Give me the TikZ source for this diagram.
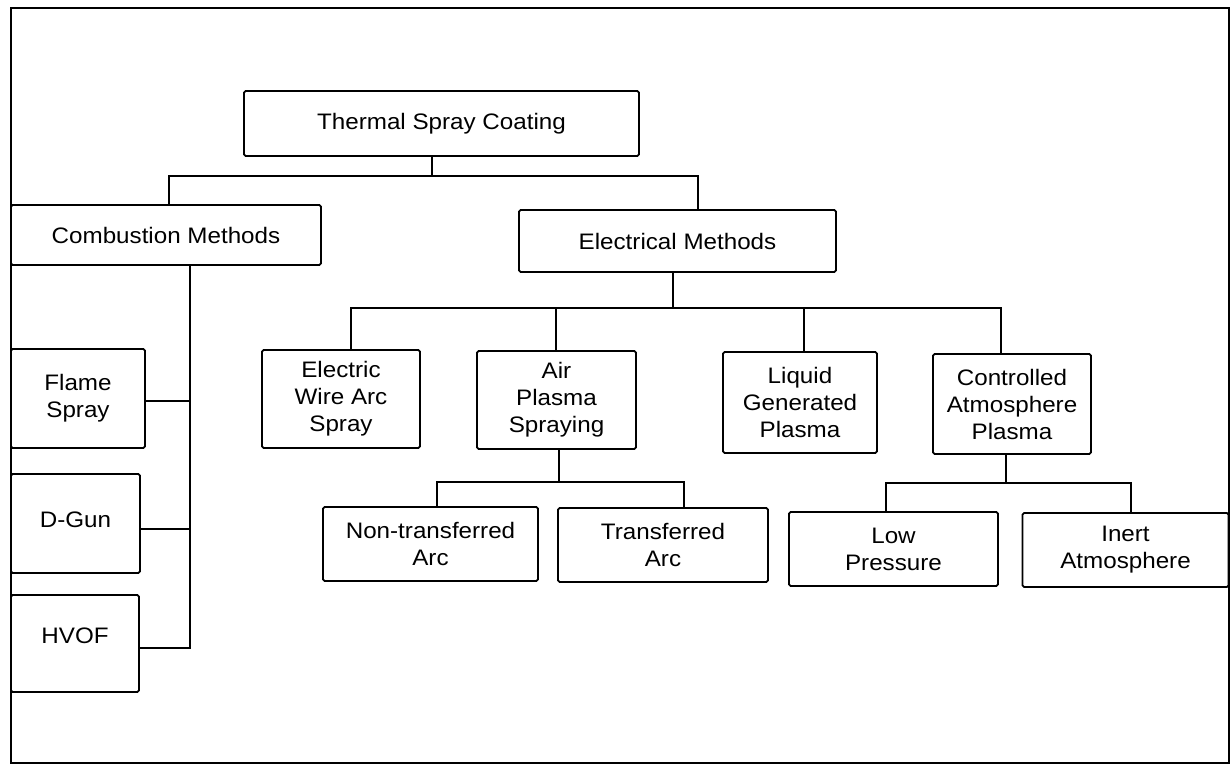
\documentclass[tikz,border=0pt]{standalone}
\usepackage{fontspec}
\setmainfont[FakeStretch=1.08]{Liberation Sans}
\begin{document}
\begin{tikzpicture}[x=0.5pt, y=-0.5pt,
  box/.style={draw, line width=0.9pt, rounded corners=0.8pt, inner sep=0pt,
    align=center, font=\fontsize{11.2}{13.5}\selectfont},
  link/.style={draw, line width=0.9pt}]
\useasboundingbox (0,0) rectangle (1232,767);

% outer frame
\draw[line width=0.9pt] (11,8) rectangle (1229,763);

% root
\node[box, minimum width=197.5pt, minimum height=32.5pt] (tsc) at (441.5,123.5) {Thermal Spray Coating};

% first level
\node[box, minimum width=155pt, minimum height=30pt] (comb) at (166,235) {Combustion Methods};
\node[box, minimum width=158.5pt, minimum height=31pt] (elec) at (677.5,241) {Electrical Methods};

% electrical methods
\node[box, minimum width=79pt, minimum height=49pt] (ewa) at (341,399) {Electric\\Wire Arc\\Spray};
\node[box, minimum width=79.5pt, minimum height=49pt] (aps) at (556.5,400) {Air\\Plasma\\Spraying};
\node[box, minimum width=77pt, minimum height=50.5pt] (lgp) at (800,402.5) {Liquid\\Generated\\Plasma};
\node[box, minimum width=79pt, minimum height=50pt] (cap) at (1012,404) {Controlled\\Atmosphere\\Plasma};

% plasma variants
\node[box, minimum width=107.5pt, minimum height=37pt] (nta) at (430.5,544) {Non-transferred\\Arc};
\node[box, minimum width=105pt, minimum height=37pt] (ta) at (663,545) {Transferred\\Arc};
\node[box, minimum width=104.5pt, minimum height=37pt] (lp) at (893.5,549) {Low\\Pressure};
\node[box, minimum width=103pt, minimum height=37pt] (ia) at (1125.5,550) {Inert\\Atmosphere};

% combustion methods (labels sit a little above the box centre)
\node[box, minimum width=67pt, minimum height=49.5pt] (fs) at (78,398.5) {Flame\\Spray};
\node[box, minimum width=64.5pt, minimum height=49.5pt] (dg) at (75.5,523.5) {\raisebox{0pt}[4pt][0pt]{D-Gun}};
\node[box, minimum width=64pt, minimum height=48.5pt] (hv) at (75,643.5) {\raisebox{0pt}[0pt][0pt]{HVOF}};

% root -> first level
\coordinate (r0) at (432,176);
\coordinate (rl) at (169,176);
\coordinate (rr) at (698,176);
\draw[link] (r0 |- tsc.south) -- (r0);
\draw[link] (comb.north -| rl) -- (rl) -- (rr) -- (elec.north -| rr);

% electrical -> four methods
\coordinate (e0) at (673,308);
\coordinate (e1) at (351,308);
\coordinate (e2) at (556,308);
\coordinate (e3) at (804,308);
\coordinate (e4) at (1001,308);
\draw[link] (e0 |- elec.south) -- (e0);
\draw[link] (ewa.north -| e1) -- (e1) -- (e4) -- (cap.north -| e4);
\draw[link] (e2) -- (aps.north -| e2);
\draw[link] (e3) -- (lgp.north -| e3);

% air plasma -> arc types
\coordinate (a0) at (559,482);
\coordinate (a1) at (437,482);
\coordinate (a2) at (684,482);
\draw[link] (a0 |- aps.south) -- (a0);
\draw[link] (nta.north -| a1) -- (a1) -- (a2) -- (ta.north -| a2);

% controlled atmosphere -> variants
\coordinate (c0) at (1006,483);
\coordinate (c1) at (886,483);
\coordinate (c2) at (1131,483);
\draw[link] (c0 |- cap.south) -- (c0);
\draw[link] (lp.north -| c1) -- (c1) -- (c2) -- (ia.north -| c2);

% combustion -> side branches
\coordinate (k0) at (190,265);
\coordinate (k1) at (190,648);
\draw[link] (k0 |- comb.south) -- (k1) -- (hv.east |- k1);
\draw[link] (fs.east) ++(0,2.5) -- ++(45,0);
\draw[link] (dg.east) ++(0,5.5) -- ++(50,0);
\end{tikzpicture}
\end{document}
